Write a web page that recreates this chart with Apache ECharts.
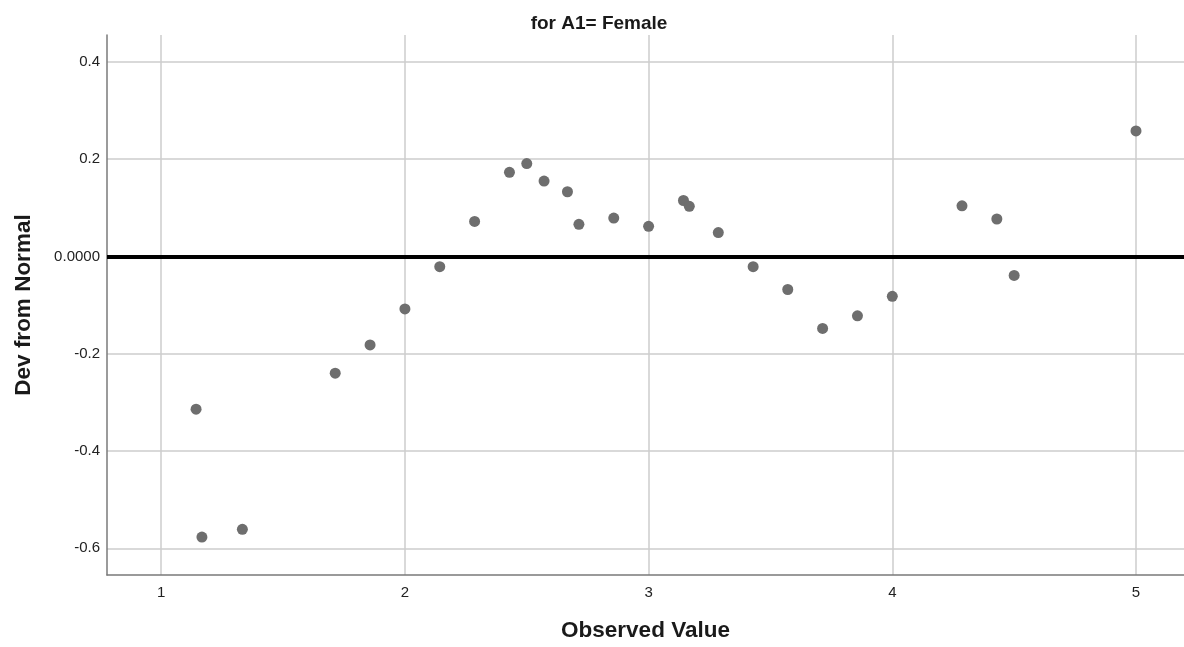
<!DOCTYPE html>
<html>
<head>
<meta charset="utf-8">
<title>Detrended Normal Q-Q Plot</title>
<script src="https://cdn.jsdelivr.net/npm/echarts@6/dist/echarts.min.js"></script>
<style>
  html, body { margin: 0; padding: 0; background: #fff; }
  #chart { width: 1184px; height: 647px; }
</style>
</head>
<body>
<div id="chart"></div>
<script>
// Observed values and their deviation from the normal line
const observed = [1.143, 1.167, 1.333, 1.714, 1.857, 2.0, 2.143, 2.286, 2.429, 2.5,
  2.571, 2.667, 2.714, 2.857, 3.0, 3.143, 3.167, 3.286, 3.429, 3.571,
  3.714, 3.857, 4.0, 4.286, 4.429, 4.5, 5.0];
const deviation = [-0.314, -0.577, -0.561, -0.240, -0.182, -0.108, -0.021, 0.072, 0.173, 0.191,
  0.155, 0.133, 0.066, 0.079, 0.062, 0.115, 0.103, 0.049, -0.021, -0.068,
  -0.148, -0.122, -0.082, 0.104, 0.077, -0.039, 0.258];

const xTicks = [1, 2, 3, 4, 5];
const yTicks = [-0.6, -0.4, -0.2, 0, 0.2, 0.4];

const points = observed.map((x, i) => [x, deviation[i]]);

const font = '"Liberation Sans", Arial, sans-serif';
const chart = echarts.init(document.getElementById('chart'));

chart.setOption({
  animation: false,
  backgroundColor: '#ffffff',
  title: {
    text: 'for A1= Female',
    left: 594,
    top: 9,
    textAlign: 'center',
    textStyle: { fontFamily: font, fontSize: 19, fontWeight: 'bold', color: '#1a1a1a' }
  },
  grid: { left: 107, right: 0, top: 35, bottom: 72 },
  xAxis: {
    type: 'value',
    min: 0.7775,
    max: 5.197,
    name: 'Observed Value',
    nameLocation: 'middle',
    nameGap: 44,
    nameTextStyle: { fontFamily: font, fontSize: 22.5, fontWeight: 'bold', color: '#1a1a1a' },
    axisLine: { show: true, onZero: false, lineStyle: { color: '#7a7a7a', width: 1.5 } },
    axisTick: { show: false, customValues: xTicks },
    axisLabel: { customValues: xTicks, fontFamily: font, fontSize: 15, color: '#222', margin: 10 },
    splitLine: { show: true, lineStyle: { color: '#cccccc', width: 1.5 } }
  },
  yAxis: {
    type: 'value',
    min: -0.655,
    max: 0.4553,
    name: 'Dev from Normal',
    nameLocation: 'middle',
    nameGap: 72,
    nameTextStyle: { fontFamily: font, fontSize: 22.5, fontWeight: 'bold', color: '#1a1a1a' },
    axisLine: { show: true, onZero: false, lineStyle: { color: '#7a7a7a', width: 1.5 } },
    axisTick: { show: false, customValues: yTicks },
    axisLabel: {
      customValues: yTicks,
      fontFamily: font, fontSize: 15, color: '#222', margin: 7,
      formatter: v => (Math.abs(v) < 1e-9 ? '0.0000' : v.toFixed(1))
    },
    splitLine: { show: true, lineStyle: { color: '#cccccc', width: 1.5 } }
  },
  series: [{
    type: 'scatter',
    data: points,
    symbol: 'circle',
    symbolSize: 11,
    itemStyle: { color: '#6e6e6e', opacity: 1 },
    markLine: {
      silent: true,
      symbol: ['none', 'none'],
      label: { show: false },
      lineStyle: { color: '#000000', width: 4, type: 'solid' },
      data: [{ yAxis: 0 }]
    },
    z: 3
  }]
});
</script>
</body>
</html>
